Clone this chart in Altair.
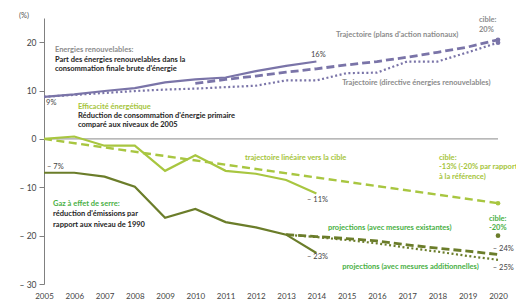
import altair as alt
import pandas as pd

# ---------------- data ----------------
years_hist = list(range(2005, 2015))
years_all = list(range(2005, 2021))

# Renewable energy share (%)
res_share = [8.7, 9.2, 9.9, 10.5, 11.7, 12.3, 12.7, 14.0, 15.1, 16.0]
res_nap_years = list(range(2010, 2021))
res_nap = [11.5, 12.3, 13.0, 13.8, 14.5, 15.3, 16.0, 16.9, 17.9, 19.0, 20.5]
res_dir = [8.7, 9.1, 9.5, 9.9, 10.2, 10.4, 10.7, 11.0, 12.1, 12.1, 13.6, 13.7, 16.0, 16.0, 17.9, 19.9]

# Energy efficiency (primary energy consumption vs 2005, %)
ee_actual = [0.0, 0.5, -1.4, -1.4, -6.6, -3.4, -6.6, -7.2, -8.5, -11.3]
ee_traj_years = [2005, 2020]
ee_traj = [0.0, -13.3]

# Greenhouse gases (vs 1990, %)
ghg_actual = [-7.0, -7.0, -7.8, -9.9, -16.3, -14.5, -17.2, -18.3, -19.8, -23.6]
proj_years = list(range(2013, 2021))
ghg_wem = [-19.8, -20.2, -20.6, -21.1, -21.9, -22.6, -23.2, -23.9]
ghg_wam = [-19.8, -20.3, -20.9, -21.6, -22.5, -23.3, -24.2, -25.0]

target_years = [2020, 2020, 2020, 2020]
target_values = [20.5, 19.9, -13.3, -20.0]
target_colors = ["#7a74a8", "#7a74a8", "#a8c640", "#6b7d2a"]

y_ticks = [-30, -20, -10, 0, 10, 20]

# annotations: text, year, value, colour, bold
ann_text = [
    "(%)", "Energies renouvelables:", "Part des énergies renouvelables dans la",
    "consommation finale brute d'énergie", "9%", "Efficacité énergétique",
    "Réduction de consommation d'énergie primaire", "comparé aux niveaux de 2005",
    "Trajectoire (plans d'action nationaux)", "cible:", "20%", "16%",
    "Trajectoire (directive énergies renouvelables)", "trajectoire linéaire vers la cible",
    "cible:", "-13% (-20% par rapport", "à la référence)", "– 11%", "– 7%",
    "Gaz à effet de serre:", "réduction d'émissions par", "rapport aux niveau de 1990",
    "projections (avec mesures existantes)", "– 23%", "cible:", "-20%", "– 24%",
    "projections (avec mesures additionnelles)", "– 25%",
]
ann_x = [
    2004.17, 2005.36, 2005.36, 2005.36, 2005.07, 2006.12, 2006.12, 2006.12,
    2014.65, 2019.37, 2019.37, 2013.82, 2014.85, 2011.64,
    2018.05, 2018.05, 2018.05, 2013.69, 2005.10,
    2005.30, 2005.30, 2005.30, 2014.38, 2013.69, 2019.70, 2019.70, 2019.83,
    2014.85, 2019.83,
]
ann_y = [
    25.4, 18.4, 16.3, 14.4, 7.4, 6.7, 4.75, 2.8,
    21.5, 24.5, 22.5, 17.4, 11.5, -3.9,
    -3.9, -5.9, -7.9, -12.7, -5.8,
    -13.4, -15.5, -17.8, -18.4, -24.4, -16.5, -18.5, -22.85,
    -26.5, -26.7,
]
GRAY, DARK, LGREEN, GREEN = "#8c8c8c", "#1e1e1e", "#a5c43a", "#49b045"
ann_color = [
    "#555555", GRAY, DARK, DARK, "#444444", LGREEN, DARK, DARK,
    GRAY, GRAY, GRAY, "#444444", GRAY, LGREEN,
    LGREEN, LGREEN, LGREEN, "#444444", "#444444",
    GREEN, DARK, DARK, GREEN, "#444444", GREEN, GREEN, "#444444",
    GREEN, "#444444",
]
ann_bold = [
    False, True, True, True, False, True, True, True,
    True, True, True, False, True, True,
    True, True, True, False, False,
    True, True, True, True, False, True, True, False,
    True, False,
]

# ---------------- chart ----------------
FONT = "Lato"
x_scale = alt.Scale(domain=[2005, 2020], nice=False, zero=False)
y_scale = alt.Scale(domain=[-30, 25], nice=False, zero=False)

X = alt.X("year:Q", scale=x_scale, title=None,
          axis=alt.Axis(values=years_all, format="d", domain=False, ticks=False, grid=False,
                        labelPadding=8, labelFontSize=8, labelColor="#444444", labelFont=FONT,
                        labelOverlap=False, labelFlush=False))
Y = alt.Y("value:Q", scale=y_scale, title=None,
          axis=alt.Axis(values=y_ticks, grid=False, domainColor="#808080", tickColor="#808080",
                        tickSize=5, labelPadding=3, labelFontSize=8.5, labelColor="#444444",
                        labelFont=FONT,
                        labelExpr="datum.value < 0 ? '– ' + abs(datum.value) : datum.value"))


def df(xs, ys):
    return pd.DataFrame({"year": xs, "value": ys})


def line(xs, ys, color, width=2.0, dash=None):
    kw = dict(color=color, strokeWidth=width, clip=False)
    if dash is not None:
        kw["strokeDash"] = dash
    return alt.Chart(df(xs, ys)).mark_line(**kw).encode(x=X, y=Y)


PURPLE, LIGHTG, OLIVE = "#7a74a8", "#a8c640", "#6b7d2a"

zero = alt.Chart(df([2005, 2020], [0, 0])).mark_line(color="#8a8a8a", strokeWidth=1).encode(x=X, y=Y)

layers = [
    zero,
    line(years_all, res_dir, PURPLE, 2.2, [2, 2.5]),
    line(res_nap_years, res_nap, PURPLE, 2.8, [8, 4]),
    line(years_hist, res_share, PURPLE, 2.2),
    line(ee_traj_years, ee_traj, LIGHTG, 2.4, [8, 4.5]),
    line(years_hist, ee_actual, LIGHTG, 2.2),
    line(proj_years, ghg_wam, OLIVE, 2.2, [2, 2.5]),
    line(proj_years, ghg_wem, OLIVE, 2.8, [8, 4]),
    line(years_hist, ghg_actual, OLIVE, 2.2),
]

targets = alt.Chart(pd.DataFrame({"year": target_years, "value": target_values,
                                  "c": target_colors})).mark_point(
    filled=True, size=22, opacity=1, clip=False).encode(
    x=X, y=Y, color=alt.Color("c:N", scale=None))
layers.append(targets)

ann = pd.DataFrame({"t": ann_text, "year": ann_x, "value": ann_y,
                    "c": ann_color, "b": ann_bold})
for bold in (True, False):
    sub = ann[ann["b"] == bold]
    layers.append(
        alt.Chart(sub).mark_text(align="left", baseline="middle", font=FONT,
                                 fontSize=7.5, fontWeight="bold" if bold else "normal")
        .encode(x=X, y=Y, text="t:N", color=alt.Color("c:N", scale=None))
    )

chart = alt.layer(*layers).properties(
    width=454, height=266,
    autosize=alt.AutoSizeParams(type="none"),
    padding={"left": 44, "top": 18, "right": 18, "bottom": 21},
    background="white",
).configure_view(stroke=None)

chart.save("out.html", embed_options={"renderer": "svg", "actions": False})
